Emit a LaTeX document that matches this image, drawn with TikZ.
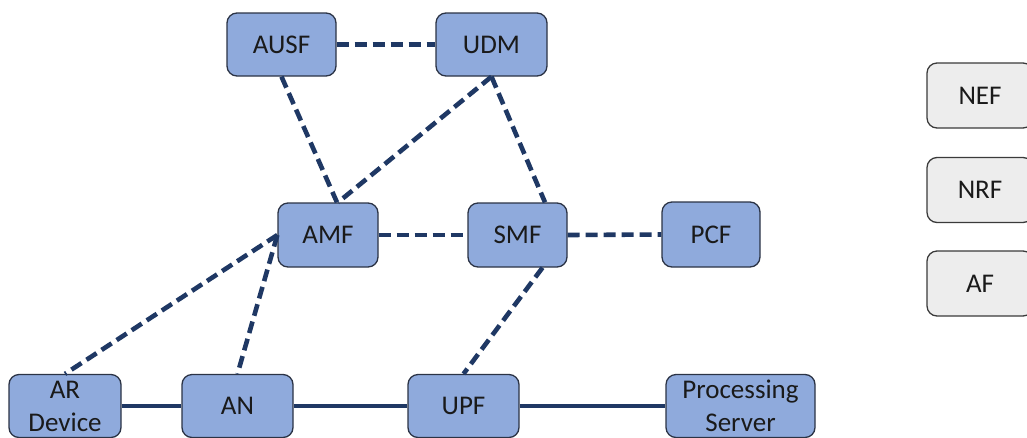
\documentclass[tikz,border=0pt]{standalone}
\usepackage{fontspec}
\setmainfont{Carlito}
\begin{document}
\definecolor{boxfill}{HTML}{8FAADC}
\definecolor{boxline}{HTML}{2B3345}
\definecolor{conn}{HTML}{1F3864}
\definecolor{grayfill}{HTML}{EDEDED}
\definecolor{grayline}{HTML}{3A3A3A}
\definecolor{txt}{HTML}{1A1A1A}
\begin{tikzpicture}[x=1pt,y=-1pt,
  nf/.style={draw=boxline,fill=boxfill,line width=1.3pt,rounded corners=10pt,
    inner sep=0pt,align=center,text=txt,font=\fontsize{27}{33}\selectfont},
  gf/.style={draw=grayline,fill=grayfill,line width=1.3pt,rounded corners=10pt,
    inner sep=0pt,align=center,text=txt,font=\fontsize{27}{33}\selectfont,
    minimum width=106pt,minimum height=65pt},
  dl/.style={draw=conn,line width=4.6pt,dash pattern=on 12pt off 6pt},
  sl/.style={draw=conn,line width=4.2pt}]
\useasboundingbox (0,0) rectangle (1027,437);
\begin{scope}
\clip (0,0) rectangle (1027,437);
% nodes
\node[nf,minimum width=109pt,minimum height=63pt] (ausf) at (281.5,44.5) {AUSF};
\node[nf,minimum width=111pt,minimum height=63pt] (udm) at (491.5,44.5) {UDM};
\node[nf,minimum width=100pt,minimum height=64pt] (amf) at (328,235) {AMF};
\node[nf,minimum width=99pt,minimum height=64pt] (smf) at (517.5,235) {SMF};
\node[nf,minimum width=98pt,minimum height=65pt] (pcf) at (711,234.5) {PCF};
\node[nf,minimum width=112pt,minimum height=63pt] (ar) at (65,406) {AR\\Device};
\node[nf,minimum width=111pt,minimum height=63pt] (an) at (237.5,406) {AN};
\node[nf,minimum width=111pt,minimum height=63pt] (upf) at (463.5,406) {UPF};
\node[nf,minimum width=149pt,minimum height=63pt] (ps) at (740.5,406) {Processing\\Server};
\node[gf] (nef) at (980,95.5) {NEF};
\node[gf] (nrf) at (980,190) {NRF};
\node[gf] (af) at (980,283.5) {AF};
\end{scope}
\begin{scope}
\clip (0,0) rectangle (1027,437);
\path[dl] (ausf.east) -- (udm.west);
\path[dl] (ausf.south) -- ([xshift=9pt]amf.north);
\path[dl] (udm.south) -- ([xshift=10pt]amf.north);
\path[dl] (udm.south) -- ([xshift=27.5pt]smf.north);
\path[dl] (amf.east) -- (smf.west);
\path[dl] (smf.east) -- (pcf.west);
\path[dl] (amf.west) -- (ar.north);
\path[dl] (amf.west) -- (an.north);
\path[dl] ([xshift=25pt]smf.south) -- (upf.north);
\path[sl] (ar.east) -- (an.west);
\path[sl] (an.east) -- (upf.west);
\path[sl] (upf.east) -- (ps.west);
\end{scope}
\end{tikzpicture}
\end{document}
